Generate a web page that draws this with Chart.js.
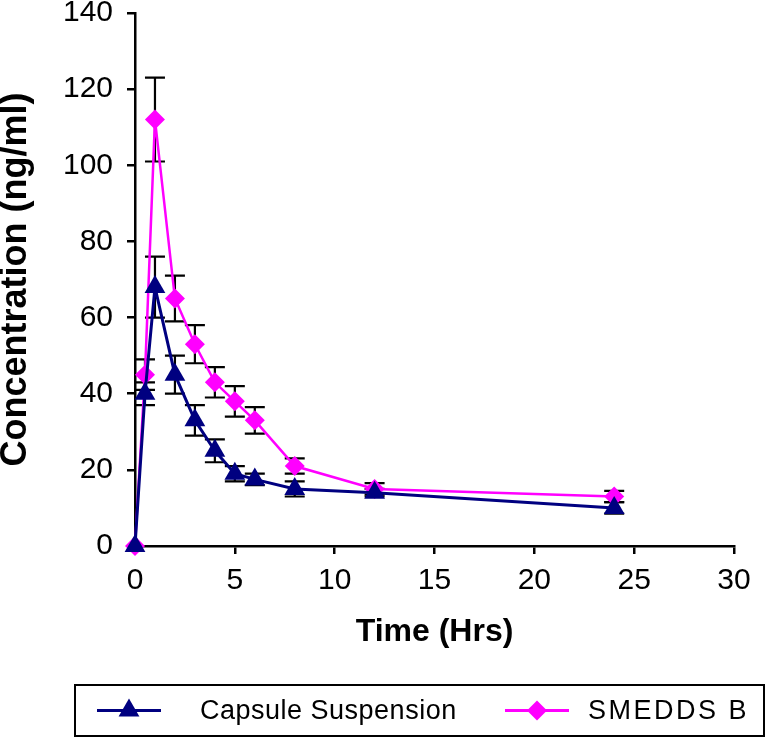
<!DOCTYPE html>
<html>
<head>
<meta charset="utf-8">
<script src="https://cdn.jsdelivr.net/npm/chart.js@4"></script>
<style>
  body { margin: 0; background: #fff; }
  canvas { display: block; }
</style>
</head>
<body>
<canvas id="chart" width="767" height="742"></canvas>
<script>
const times = [0, 0.5, 1, 2, 3, 4, 5, 6, 8, 12, 24];
const capsule = [0, 40, 68, 45, 33, 25, 19, 17.5, 15, 14, 10];
const capsuleErr = [0, 3, 8, 5, 4, 3, 2, 1.5, 2, 1, 1.5];
const smedds = [0, 45, 112, 65, 53, 43, 38, 33, 21, 15, 13];
const smeddsErr = [0, 4, 11, 6, 5, 4, 4, 3.5, 2, 1.5, 1.5];
const seriesNames = ['Capsule Suspension', 'SMEDDS B'];

function pts(ys) {
    return times.map((t, i) => ({ x: t, y: ys[i] }));
}

// black error bars with caps, drawn under the markers
const errorBars = {
    id: 'errorBars',
    beforeDatasetsDraw(chart) {
        const ctx = chart.ctx;
        const y = chart.scales.y;
        const errs = [capsuleErr, smeddsErr];
        ctx.save();
        ctx.strokeStyle = '#000';
        ctx.lineWidth = 2.2;
        chart.data.datasets.forEach((ds, d) => {
            const meta = chart.getDatasetMeta(d);
            meta.data.forEach((p, i) => {
                const e = errs[d][i];
                if (!e) return;
                const top = y.getPixelForValue(ds.data[i].y + e);
                const bot = y.getPixelForValue(ds.data[i].y - e);
                ctx.beginPath();
                ctx.moveTo(p.x, top); ctx.lineTo(p.x, bot);
                ctx.moveTo(p.x - 10, top); ctx.lineTo(p.x + 10, top);
                ctx.moveTo(p.x - 10, bot); ctx.lineTo(p.x + 10, bot);
                ctx.stroke();
            });
        });
        ctx.restore();
    }
};

// boxed legend below the axis title
const boxLegend = {
    id: 'boxLegend',
    afterDraw(chart) {
        const ctx = chart.ctx;
        const left = 75, top = chart.height - 57, w = chart.width - 78, h = 51;
        ctx.save();
        ctx.strokeStyle = '#000';
        ctx.lineWidth = 2;
        ctx.strokeRect(left, top, w, h);
        const cy = top + h / 2;
        const items = [
            { x: 97, tx: 200 },
            { x: 505, tx: 588 }
        ];
        ctx.font = '27px "Liberation Sans", Arial, sans-serif';
        ctx.textBaseline = 'middle';
        chart.data.datasets.forEach((ds, d) => {
            const it = items[d];
            ctx.strokeStyle = ds.borderColor;
            ctx.lineWidth = 3;
            ctx.beginPath();
            ctx.moveTo(it.x, cy); ctx.lineTo(it.x + 64, cy);
            ctx.stroke();
            ctx.fillStyle = ds.backgroundColor;
            Chart.helpers.drawPoint(ctx, { pointStyle: ds.pointStyle, radius: ds.pointRadius, borderWidth: 0 }, it.x + 32, cy);
            ctx.fillStyle = '#000';
            ctx.letterSpacing = d === 0 ? '0.5px' : '2.5px';
            ctx.fillText(seriesNames[d], it.tx, cy + 1);
        });
        ctx.restore();
    }
};

const tickFont = { family: '"Liberation Sans", Arial, sans-serif', size: 30, lineHeight: 0.87 };

const cfg = {
    type: 'line',
    data: {
        datasets: [{
            label: seriesNames[0],
            data: pts(capsule),
            borderColor: '#000080',
            backgroundColor: '#000080',
            borderWidth: 3,
            pointStyle: 'triangle',
            pointRadius: 12,
            pointBorderWidth: 0,
            clip: false,
            tension: 0
        }, {
            label: seriesNames[1],
            data: pts(smedds),
            borderColor: '#ff00ff',
            backgroundColor: '#ff00ff',
            borderWidth: 2.5,
            pointStyle: 'rectRot',
            pointRadius: 10,
            pointBorderWidth: 0,
            clip: false,
            tension: 0
        }]
    },
    options: {
        responsive: false,
        animation: false,
        layout: { padding: { left: 0, top: 0, right: 33, bottom: 94 } },
        plugins: { legend: { display: false }, tooltip: { enabled: false } },
        scales: {
            x: {
                type: 'linear',
                min: 0, max: 30,
                ticks: { stepSize: 5, color: '#000', padding: 14, font: tickFont },
                grid: { drawOnChartArea: false, drawTicks: true, tickLength: 8, tickColor: '#000', lineWidth: 2.5 },
                border: { color: '#000', width: 2.5 },
                title: { display: true, text: 'Time (Hrs)', color: '#000', padding: 0,
                    font: { family: '"Liberation Sans", Arial, sans-serif', size: 32, weight: 'bold', lineHeight: 1 } },
                afterFit(s) { s.height = 102; }
            },
            y: {
                min: 0, max: 140,
                ticks: { stepSize: 20, color: '#000', padding: 14, font: tickFont },
                grid: { drawOnChartArea: false, drawTicks: true, tickLength: 8, tickColor: '#000', lineWidth: 2.5 },
                border: { color: '#000', width: 2.5 },
                title: { display: true, text: 'Concentration (ng/ml)', color: '#000', padding: 0,
                    font: { family: '"Liberation Sans", Arial, sans-serif', size: 36, weight: 'bold', lineHeight: 0.9 } },
                afterFit(s) { s.width = 135; s.paddingTop = 13; }
            }
        }
    },
    plugins: [errorBars, boxLegend]
};

const canvas = document.getElementById('chart');
const myChart = new Chart(canvas, cfg);
</script>
</body>
</html>
